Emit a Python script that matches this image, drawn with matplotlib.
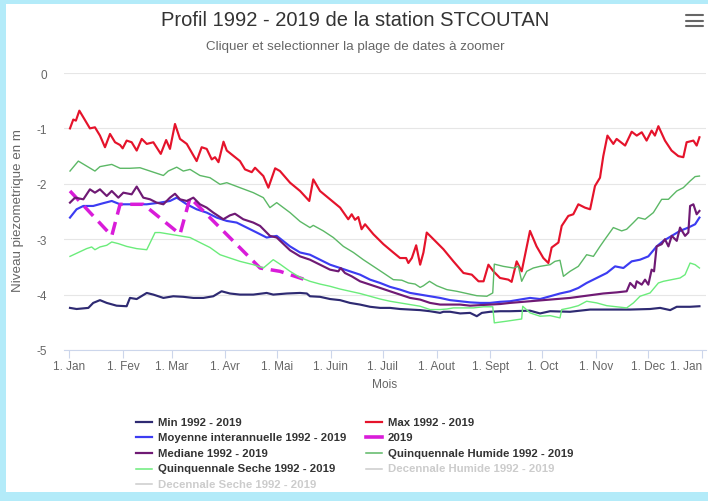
import matplotlib
matplotlib.use('Agg')
import matplotlib.pyplot as plt
from matplotlib.lines import Line2D
from matplotlib.patches import Rectangle
from matplotlib import font_manager

_names = {f.name for f in font_manager.fontManager.ttflist}
FONT = 'DejaVu Sans'
for cand in ['Liberation Sans', 'Arial', 'Open Sans']:
    if cand in _names:
        FONT = cand
        break
plt.rcParams['font.family'] = [FONT, 'DejaVu Sans']
plt.rcParams['axes.unicode_minus'] = False
plt.rcParams['lines.scale_dashes'] = False

# ---------------- data (day of year, level in m) ----------------
month_ticks = [0, 31, 59, 90, 120, 151, 181, 212, 243, 273, 304, 334, 365]
month_labels = ['1. Jan', '1. Fev', '1. Mar', '1. Avr', '1. Mai', '1. Juin', '1. Juil',
                '1. Aout', '1. Sept', '1. Oct', '1. Nov', '1. Dec', '1. Jan']

max_days = [0.4, 2.3, 3.8, 5.8, 8.1, 11.9, 14.8, 17.7, 20.6, 23.5, 26.4, 29.3, 30.8, 33.1, 36.0,
            38.9, 41.8, 44.7, 48.5, 52.8, 55.9, 58.1, 61.0, 63.9, 67.8, 73.5, 76.4, 79.3, 82.2,
            84.1, 86.1, 89.0, 90.9, 95.7, 98.5, 101.4, 105.3, 107.2, 112.0, 114.9, 118.8, 121.6,
            127.4, 133.2, 138.5, 140.8, 144.7, 150.5, 156.3, 161.0, 163.0, 164.9, 166.8, 168.7,
            170.7, 175.5, 181.3, 187.0, 190.9, 194.4, 195.7, 197.7, 200.2, 202.5, 204.4, 206.3,
            209.2, 215.9, 221.7, 227.5, 232.3, 236.2, 239.1, 241.9, 244.8, 248.6, 253.4, 255.3,
            258.2, 261.1, 265.9, 269.7, 273.6, 276.5, 278.4, 282.3, 284.2, 288.0, 290.9, 293.8,
            297.6, 300.6, 303.4, 306.3, 308.2, 310.6, 314.0, 315.9, 320.8, 324.6, 327.5, 330.4,
            333.2, 336.1, 338.0, 340.0, 343.8, 347.6, 351.5, 354.4, 356.3, 360.2, 362.1, 363.7]
max_vals = [-1.00, -0.84, -0.86, -0.68, -0.80, -1.00, -0.98, -1.13, -1.34, -1.10, -1.25, -1.30,
            -1.36, -1.22, -1.25, -1.40, -1.19, -1.28, -1.25, -1.46, -1.21, -1.37, -0.92, -1.19,
            -1.28, -1.59, -1.34, -1.37, -1.56, -1.52, -1.61, -1.24, -1.40, -1.52, -1.59, -1.74,
            -1.79, -1.71, -1.86, -2.07, -1.72, -1.77, -1.98, -2.13, -2.31, -1.92, -2.13, -2.28,
            -2.43, -2.64, -2.55, -2.65, -2.60, -2.82, -2.73, -2.91, -3.09, -3.24, -3.34, -3.34,
            -3.43, -3.34, -3.11, -3.46, -3.24, -2.88, -2.97, -3.18, -3.40, -3.61, -3.64, -3.76,
            -3.76, -3.46, -3.58, -3.70, -3.73, -3.77, -3.40, -3.58, -2.85, -3.13, -3.34, -3.43,
            -3.15, -3.06, -2.76, -2.58, -2.55, -2.37, -2.43, -2.46, -2.04, -1.89, -1.50, -1.13,
            -1.28, -1.19, -1.31, -1.06, -1.13, -1.07, -1.22, -1.04, -1.13, -0.96, -1.22, -1.40,
            -1.50, -1.52, -1.25, -1.22, -1.31, -1.16]

min_days = [0.4, 4.2, 11.0, 13.8, 17.7, 21.6, 27.3, 33.1, 35.0, 38.9, 44.7, 48.5, 54.3, 60.0,
            65.8, 71.6, 77.4, 83.1, 87.9, 92.7, 98.5, 106.2, 113.9, 117.7, 125.5, 133.2, 137.1,
            138.9, 144.7, 150.5, 156.3, 162.0, 167.8, 173.6, 179.4, 185.1, 190.9, 196.7, 202.5,
            208.2, 214.0, 215.9, 219.8, 225.6, 231.3, 235.2, 238.1, 242.9, 248.7, 254.4, 265.9,
            271.7, 277.5, 289.0, 300.6, 312.1, 323.7, 335.2, 341.0, 346.8, 350.6, 358.3, 363.7]
min_vals = [-4.24, -4.26, -4.24, -4.15, -4.10, -4.15, -4.20, -4.21, -4.06, -4.08, -3.97, -4.00,
            -4.06, -4.03, -4.04, -4.06, -4.06, -4.03, -3.94, -3.98, -4.00, -4.00, -3.97, -4.00,
            -3.98, -3.97, -3.98, -4.03, -4.04, -4.08, -4.10, -4.15, -4.18, -4.22, -4.24, -4.24,
            -4.26, -4.27, -4.28, -4.30, -4.33, -4.31, -4.31, -4.34, -4.33, -4.39, -4.33, -4.31,
            -4.30, -4.30, -4.29, -4.34, -4.30, -4.31, -4.27, -4.27, -4.27, -4.26, -4.24, -4.28,
            -4.22, -4.22, -4.21]

moy_days = [0.4, 4.2, 8.1, 13.8, 19.6, 24.5, 29.3, 37.0, 44.7, 52.3, 58.1, 62.0, 67.8, 73.5,
            79.3, 85.1, 90.9, 96.6, 102.4, 108.2, 113.9, 119.7, 127.4, 133.2, 138.9, 144.7, 150.5,
            156.3, 162.0, 167.8, 173.6, 179.4, 185.1, 190.9, 196.7, 202.5, 208.2, 214.0, 219.8,
            225.6, 231.3, 237.1, 242.9, 248.7, 254.4, 260.1, 265.9, 271.7, 277.5, 283.2, 289.0,
            293.8, 298.6, 304.4, 310.2, 315.0, 319.8, 324.6, 329.4, 334.2, 339.0, 342.9, 347.7,
            352.5, 357.3, 361.2, 363.7]
moy_vals = [-2.61, -2.46, -2.40, -2.40, -2.35, -2.31, -2.37, -2.37, -2.37, -2.34, -2.31, -2.25,
            -2.37, -2.46, -2.52, -2.61, -2.67, -2.70, -2.79, -2.88, -2.97, -2.94, -3.13, -3.24,
            -3.28, -3.37, -3.46, -3.52, -3.58, -3.64, -3.73, -3.79, -3.86, -3.91, -3.97, -4.00,
            -4.03, -4.06, -4.10, -4.12, -4.14, -4.15, -4.15, -4.13, -4.12, -4.09, -4.06, -4.08,
            -4.03, -3.98, -3.94, -3.88, -3.79, -3.70, -3.61, -3.49, -3.52, -3.40, -3.37, -3.31,
            -3.13, -3.03, -2.94, -2.85, -2.79, -2.73, -2.61]

y2019_days = [0.4, 24.5, 29.3, 42.7, 63.9, 69.7, 110.1, 121.6, 137.0]
y2019_vals = [-2.13, -2.94, -2.37, -2.37, -2.91, -2.25, -3.52, -3.58, -3.74]

med_days = [0.4, 3.3, 8.1, 11.9, 14.8, 17.7, 21.6, 24.5, 28.3, 31.2, 36.0, 38.9, 42.7, 46.6,
            50.4, 54.3, 58.1, 61.0, 63.9, 67.8, 71.6, 75.4, 79.3, 83.1, 88.9, 92.7, 95.6, 100.4,
            106.2, 110.1, 115.8, 119.7, 127.4, 133.2, 138.9, 144.7, 150.5, 155.3, 156.6, 159.1,
            163.0, 167.8, 173.6, 179.4, 185.1, 190.9, 196.7, 202.5, 208.2, 214.0, 219.8, 225.6,
            231.3, 237.1, 242.9, 248.7, 254.4, 265.9, 277.5, 289.0, 298.6, 308.2, 315.9, 321.7,
            323.7, 326.5, 327.5, 330.4, 332.3, 334.2, 336.1, 337.5, 339.0, 341.9, 343.8, 345.8,
            347.7, 350.6, 352.5, 355.4, 357.3, 358.3, 360.2, 362.1, 363.7]
med_vals = [-2.34, -2.25, -2.28, -2.10, -2.16, -2.10, -2.22, -2.13, -2.25, -2.16, -2.19, -2.05,
            -2.25, -2.28, -2.34, -2.37, -2.25, -2.18, -2.28, -2.31, -2.25, -2.37, -2.43, -2.52,
            -2.64, -2.57, -2.54, -2.64, -2.70, -2.76, -2.94, -2.97, -3.20, -3.31, -3.37, -3.46,
            -3.55, -3.58, -3.52, -3.61, -3.67, -3.76, -3.82, -3.88, -3.94, -4.00, -4.06, -4.09,
            -4.15, -4.18, -4.18, -4.18, -4.20, -4.19, -4.18, -4.17, -4.15, -4.12, -4.09, -4.06,
            -4.02, -3.98, -3.96, -3.94, -3.79, -3.88, -3.76, -3.82, -3.73, -3.82, -3.55, -3.58,
            -3.13, -3.09, -3.00, -3.13, -2.94, -3.03, -2.79, -2.94, -2.88, -2.40, -2.37, -2.55,
            -2.49]

qh_days = [0.4, 5.2, 10.0, 14.8, 17.7, 24.5, 29.3, 35.0, 40.8, 46.6, 54.3, 57.1, 62.0, 65.8,
           69.7, 75.4, 81.2, 87.0, 90.9, 98.5, 106.2, 112.0, 115.8, 119.7, 127.4, 133.2, 138.9,
           140.8, 146.6, 152.4, 158.2, 164.0, 169.7, 175.5, 181.3, 187.0, 191.9, 195.7, 199.6,
           202.5, 204.4, 207.9, 212.1, 217.9, 223.6, 229.4, 235.2, 241.0, 244.4, 245.3, 250.5,
           256.3, 259.2, 261.1, 264.0, 267.8, 271.7, 277.5, 280.3, 283.2, 285.2, 289.0, 293.8,
           298.6, 302.5, 306.3, 309.2, 314.0, 318.8, 321.7, 325.6, 328.4, 332.3, 337.1, 341.9,
           345.8, 347.7, 350.6, 354.4, 358.3, 361.2, 363.7]
qh_vals = [-1.77, -1.59, -1.68, -1.77, -1.69, -1.65, -1.72, -1.72, -1.71, -1.77, -1.85, -1.77,
           -1.70, -1.77, -1.74, -1.85, -1.89, -2.01, -1.98, -2.07, -2.16, -2.25, -2.43, -2.34,
           -2.52, -2.68, -2.79, -2.75, -2.85, -2.97, -3.13, -3.24, -3.37, -3.49, -3.61, -3.73,
           -3.74, -3.79, -3.81, -3.87, -3.84, -3.76, -3.84, -3.91, -3.94, -3.98, -4.02, -4.03,
           -3.97, -3.45, -3.49, -3.52, -3.49, -3.76, -3.58, -3.52, -3.49, -3.46, -3.40, -3.38,
           -3.67, -3.58, -3.49, -3.28, -3.31, -3.13, -3.00, -2.79, -2.85, -2.82, -2.70, -2.61,
           -2.64, -2.52, -2.28, -2.28, -2.22, -2.13, -2.07, -1.95, -1.87, -1.86]

qs_days = [0.4, 5.2, 10.0, 12.9, 14.8, 17.7, 21.6, 24.5, 28.3, 33.1, 38.9, 44.7, 49.5, 52.3,
           58.1, 63.9, 69.7, 75.4, 81.2, 87.0, 92.7, 98.5, 106.2, 112.0, 117.7, 121.6, 127.4,
           133.2, 138.9, 144.7, 150.5, 156.3, 162.0, 167.8, 173.6, 179.4, 185.1, 190.9, 196.7,
           202.5, 208.2, 214.0, 217.9, 221.7, 227.5, 233.3, 239.1, 244.4, 245.3, 252.4, 261.1,
           261.7, 265.9, 271.7, 277.5, 283.2, 284.2, 289.0, 293.8, 298.6, 304.4, 310.2, 315.9,
           321.7, 325.6, 329.4, 335.2, 340.0, 342.9, 347.7, 352.5, 355.4, 358.3, 361.2, 363.7]
qs_vals = [-3.31, -3.24, -3.17, -3.14, -3.19, -3.14, -3.11, -3.05, -3.08, -3.13, -3.17, -3.19,
           -2.88, -2.88, -2.91, -2.94, -2.97, -3.06, -3.15, -3.28, -3.34, -3.40, -3.46, -3.52,
           -3.37, -3.45, -3.58, -3.69, -3.76, -3.81, -3.85, -3.90, -3.94, -3.98, -4.03, -4.08,
           -4.12, -4.15, -4.18, -4.21, -4.27, -4.27, -4.26, -4.24, -4.24, -4.24, -4.22, -4.22,
           -4.51, -4.48, -4.44, -4.21, -4.33, -4.39, -4.38, -4.42, -4.27, -4.24, -4.20, -4.12,
           -4.15, -4.20, -4.22, -4.24, -4.15, -4.03, -3.97, -3.79, -3.76, -3.73, -3.70, -3.64,
           -3.43, -3.46, -3.52]

# ---------------- layout ----------------
W, H = 708, 502
fig = plt.figure(figsize=(W / 100, H / 100), dpi=100)
fig.patch.set_facecolor('#b3ebf9')
renderer = fig.canvas.get_renderer()


def fx(x):
    return x / W


def fy(y):
    return 1 - y / H


def fit(txt, target_px, max_size, vertical=False):
    """Scale a text so its rendered length matches the reference length."""
    bb = txt.get_window_extent(renderer)
    w = bb.height if vertical else bb.width
    if w > 0:
        txt.set_fontsize(min(max_size, txt.get_fontsize() * target_px / w))
    return txt


fig.add_artist(Rectangle((fx(6), fy(493)), fx(708) - fx(6), fy(5) - fy(493),
                         facecolor='white', edgecolor='none', transform=fig.transFigure, zorder=0))

L, R, T, B = 64, 706, 74, 351
ax = fig.add_axes([fx(L), fy(B), (R - L) / W, (B - T) / H])
ax.set_facecolor('white')
px_per_day = 1.7326
x0 = 69.3
ax.set_xlim(-(x0 - L) / px_per_day, (R - x0) / px_per_day)
ax.set_ylim(-5, 0)

C_MIN = '#2e2a72'
C_MAX = '#e5132b'
C_MOY = '#3c3cf2'
C_2019 = '#d91cd9'
C_MED = '#6f1a74'
C_QH = '#5cb866'
C_QS = '#6bec7b'
C_HID = '#cccccc'

lw = 1.55
ax.plot(min_days, min_vals, color=C_MIN, lw=lw, zorder=3, solid_joinstyle='round')
ax.plot(max_days, max_vals, color=C_MAX, lw=lw, zorder=3, solid_joinstyle='round')
ax.plot(moy_days, moy_vals, color=C_MOY, lw=lw, zorder=3, solid_joinstyle='round')
ax.plot(y2019_days, y2019_vals, color=C_2019, lw=2.5, zorder=3, dashes=(9.5, 5.5))
ax.plot(med_days, med_vals, color=C_MED, lw=lw, zorder=3, solid_joinstyle='round')
ax.plot(qh_days, qh_vals, color=C_QH, lw=1.0, zorder=3, solid_joinstyle='round')
ax.plot(qs_days, qs_vals, color=C_QS, lw=1.0, zorder=3, solid_joinstyle='round')

for s in ['top', 'right', 'left']:
    ax.spines[s].set_visible(False)
ax.spines['bottom'].set_color('#ccd6eb')
ax.spines['bottom'].set_linewidth(0.8)

ax.set_yticks([0, -1, -2, -3, -4, -5])
ax.set_yticklabels(['0', '-1', '-2', '-3', '-4', '-5'])
ax.yaxis.grid(True, color='#e6e6e6', lw=0.8)
ax.set_axisbelow(True)
ax.tick_params(axis='y', length=0, pad=12, labelcolor='#666666')

ax.set_xticks(month_ticks)
ax.set_xticklabels(month_labels)
ax.tick_params(axis='x', direction='out', length=5.5, width=0.8, color='#ccd6eb',
               pad=1.5, labelcolor='#666666')

# tick label size fitted on "1. Aout" (about 37 px wide in the reference)
probe = fig.text(0, 0, '1. Aout', fontsize=8)
tick_size = min(8.5, 8 * 37.5 / probe.get_window_extent(renderer).width)
probe.remove()
ax.tick_params(axis='both', labelsize=tick_size)
ax.get_xticklabels()[-1].set_horizontalalignment('right')
ax.get_xticklabels()[-1].set_x(month_ticks[-1])

# titles
t = fig.text(fx(355), fy(21), 'Profil 1992 - 2019 de la station STCOUTAN', ha='center',
             va='center', fontsize=13, color='#333333')
fit(t, 390, 14.5)
t = fig.text(fx(355), fy(47), 'Cliquer et selectionner la plage de dates à zoomer', ha='center',
             va='center', fontsize=8.6, color='#666666')
fit(t, 300, 9.6)
t = fig.text(fx(385), fy(385), 'Mois', ha='center', va='center', fontsize=8.6, color='#666666')
fit(t, 25, 9.6)
t = fig.text(fx(18), fy(211), 'Niveau piezometrique en m', ha='center', va='center', rotation=90,
             fontsize=8.6, color='#666666')
fit(t, 165, 9.6, vertical=True)

# menu icon
for yy in (16, 21.5, 27):
    fig.add_artist(Line2D([fx(686), fx(703)], [fy(yy), fy(yy)], color='#666666', lw=1.5,
                          solid_capstyle='round', transform=fig.transFigure))

# legend
legend_items = [
    ('Min 1992 - 2019', C_MIN, 1.6, False),
    ('Max 1992 - 2019', C_MAX, 1.6, False),
    ('Moyenne interannuelle 1992 - 2019', C_MOY, 1.6, False),
    ('2019', C_2019, 2.6, False),
    ('Mediane 1992 - 2019', C_MED, 1.6, False),
    ('Quinquennale Humide 1992 - 2019', C_QH, 1.1, False),
    ('Quinquennale Seche 1992 - 2019', C_QS, 1.1, False),
    ('Decennale Humide 1992 - 2019', C_HID, 1.1, True),
    ('Decennale Seche 1992 - 2019', C_HID, 1.1, True),
]
probe = fig.text(0, 0, 'Moyenne interannuelle 1992 - 2019', fontsize=8.6, fontweight='bold')
leg_size = min(9.2, 8.6 * 187 / probe.get_window_extent(renderer).width)
probe.remove()

rows_y = [422.5, 438.3, 454.3, 469.5, 485.0]
cols = [(136, 151.5, 158.5), (366, 382, 387.5)]
for i, (label, col, lwl, hidden) in enumerate(legend_items):
    r, c = divmod(i, 2)
    xs, xe, xt = cols[c]
    yy = rows_y[r]
    fig.add_artist(Line2D([fx(xs), fx(xe)], [fy(yy), fy(yy)], color=col, lw=lwl,
                          transform=fig.transFigure))
    fig.text(fx(xt), fy(yy), label, ha='left', va='center', fontsize=leg_size, fontweight='bold',
             color=('#cccccc' if hidden else '#333333'))

fig.savefig('out.png', dpi=100, facecolor=fig.get_facecolor())
